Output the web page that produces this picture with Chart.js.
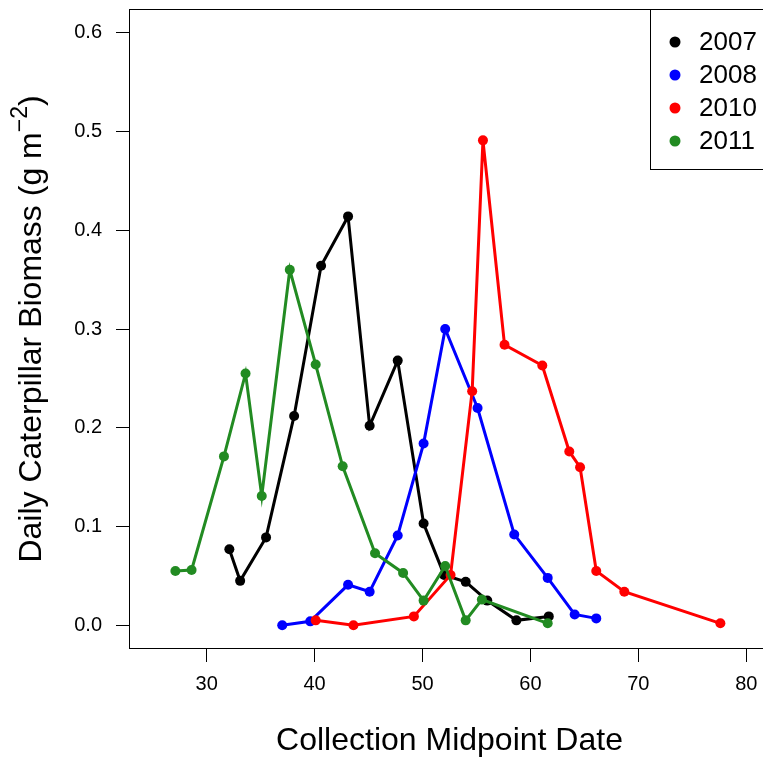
<!DOCTYPE html>
<html>
<head>
<meta charset="utf-8">
<script src="https://cdn.jsdelivr.net/npm/chart.js@4.4.1/dist/chart.umd.min.js"></script>
<style>
  html, body { margin: 0; padding: 0; background: #fff; overflow: hidden; }
  #wrap { width: 775px; height: 758px; }
</style>
</head>
<body>
<div id="wrap"><canvas id="biomassChart" width="775" height="758"></canvas></div>
<script>
// Chart data
const years = ['2007', '2008', '2010', '2011'];
const colors = ['#000000', '#0000FF', '#FF0000', '#228B22'];

const date2007 = [32.1, 33.1, 35.5, 38.1, 40.6, 43.1, 45.1, 47.7, 50.1, 52.0, 54.0, 56.0, 58.7, 61.7];
const mass2007 = [0.077, 0.045, 0.089, 0.212, 0.364, 0.414, 0.202, 0.268, 0.103, 0.051, 0.044, 0.025, 0.005, 0.009];

const date2008 = [37.0, 39.6, 43.1, 45.1, 47.7, 50.1, 52.1, 55.1, 58.5, 61.6, 64.1, 66.1];
const mass2008 = [0.000, 0.004, 0.041, 0.034, 0.091, 0.184, 0.300, 0.220, 0.092, 0.048, 0.011, 0.007];

const date2010 = [40.1, 43.6, 49.2, 52.6, 54.6, 55.6, 57.6, 61.1, 63.6, 64.6, 66.1, 68.7, 77.6];
const mass2010 = [0.005, 0.000, 0.009, 0.051, 0.237, 0.491, 0.284, 0.263, 0.176, 0.160, 0.055, 0.034, 0.002];

const date2011 = [27.1, 28.6, 31.6, 33.6, 35.1, 37.7, 40.1, 42.6, 45.6, 48.2, 50.1, 52.1, 54.0, 55.5, 61.6];
const mass2011 = [0.055, 0.056, 0.171, 0.255, 0.131, 0.360, 0.264, 0.161, 0.073, 0.053, 0.025, 0.060, 0.005, 0.026, 0.002];

const xTicks = [30, 40, 50, 60, 70, 80];
const yTicks = [0, 0.1, 0.2, 0.3, 0.4, 0.5, 0.6];

const allDates = [date2007, date2008, date2010, date2011];
const allMass = [mass2007, mass2008, mass2010, mass2011];

const FONT = "'Liberation Sans', Arial, Helvetica, sans-serif";

const datasets = years.map((yr, i) => ({
    label: yr,
    data: allDates[i].map((d, k) => ({ x: d, y: allMass[i][k] })),
    showLine: true,
    borderColor: colors[i],
    backgroundColor: colors[i],
    borderWidth: 3,
    pointRadius: 5,
    pointHoverRadius: 5,
    pointBorderWidth: 0,
    pointBackgroundColor: colors[i],
    order: years.length - i
}));

// box, legend and axis titles drawn R style
const decorations = {
    id: 'decorations',
    afterDraw(chart) {
        const ctx = chart.ctx;
        const a = chart.chartArea;
        ctx.save();
        ctx.strokeStyle = '#000';
        ctx.lineWidth = 1;
        ctx.strokeRect(a.left + 0.5, a.top + 0.5, a.right - a.left - 1, a.bottom - a.top - 1);

        // legend box in the top right corner
        const lx = 650;
        const lBottom = 169;
        ctx.fillStyle = '#fff';
        ctx.fillRect(lx, a.top, a.right - lx, lBottom - a.top);
        ctx.strokeRect(lx + 0.5, a.top + 0.5, a.right - lx - 1, lBottom - a.top);
        ctx.font = '26px ' + FONT;
        ctx.textBaseline = 'middle';
        ctx.textAlign = 'left';
        years.forEach((yr, i) => {
            const cy = 42 + i * 33;
            ctx.fillStyle = colors[i];
            ctx.beginPath();
            ctx.arc(675, cy, 5.5, 0, Math.PI * 2);
            ctx.fill();
            ctx.fillStyle = '#000';
            ctx.fillText(yr, 699, cy + 1);
        });

        // x title
        ctx.fillStyle = '#000';
        ctx.font = '32px ' + FONT;
        ctx.textAlign = 'center';
        ctx.textBaseline = 'alphabetic';
        ctx.fillText('Collection Midpoint Date', (a.left + a.right) / 2, 750);

        // y title with superscript
        const main = 'Daily Caterpillar Biomass (g m';
        const sup = '\u22122';
        const tail = ')';
        ctx.font = '32px ' + FONT;
        const w1 = ctx.measureText(main).width;
        const w3 = ctx.measureText(tail).width;
        ctx.font = '23px ' + FONT;
        const w2 = ctx.measureText(sup).width;
        const total = w1 + w2 + w3;
        ctx.translate(41, (a.top + a.bottom) / 2);
        ctx.rotate(-Math.PI / 2);
        ctx.textAlign = 'left';
        let x0 = -total / 2;
        ctx.font = '32px ' + FONT;
        ctx.fillText(main, x0, 0);
        ctx.font = '23px ' + FONT;
        ctx.fillText(sup, x0 + w1, -14);
        ctx.font = '32px ' + FONT;
        ctx.fillText(tail, x0 + w1 + w2, 0);
        ctx.restore();
    }
};

const config = {
    type: 'scatter',
    data: { datasets: datasets },
    options: {
        responsive: false,
        animation: false,
        layout: { padding: { top: 9, right: 1, left: 0, bottom: 0 } },
        plugins: {
            legend: { display: false },
            tooltip: { enabled: false }
        },
        scales: {
            x: {
                type: 'linear',
                min: 22.8,
                max: 82.2,
                afterBuildTicks: (scale) => { scale.ticks = xTicks.map(v => ({ value: v })); },
                afterFit: (scale) => {
                    scale.height = 109;
                    scale.paddingLeft = 0;
                    scale.paddingRight = 0;
                },
                grid: { drawOnChartArea: false, drawTicks: true, tickLength: 13, color: '#000' },
                border: { display: false },
                ticks: {
                    autoSkip: false,
                    maxRotation: 0,
                    padding: 10,
                    color: '#000',
                    font: { family: FONT, size: 20 }
                }
            },
            y: {
                type: 'linear',
                min: -0.024,
                max: 0.624,
                afterBuildTicks: (scale) => { scale.ticks = yTicks.map(v => ({ value: v })); },
                afterFit: (scale) => {
                    scale.width = 129;
                    scale.paddingTop = 0;
                    scale.paddingBottom = 0;
                },
                grid: { drawOnChartArea: false, drawTicks: true, tickLength: 13, color: '#000' },
                border: { display: false },
                ticks: {
                    autoSkip: false,
                    padding: 14,
                    color: '#000',
                    font: { family: FONT, size: 20 },
                    callback: (v) => v.toFixed(1)
                }
            }
        }
    },
    plugins: [decorations]
};

const biomassChart = new Chart(document.getElementById('biomassChart'), config);
</script>
</body>
</html>
